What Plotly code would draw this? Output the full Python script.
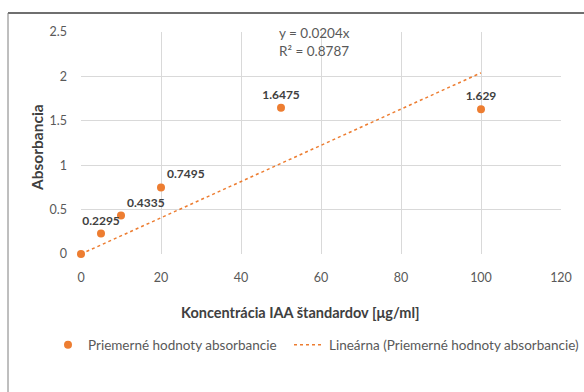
import plotly.graph_objects as go

# IAA standard concentrations and mean absorbance readings
koncentracia = [0, 5, 10, 20, 50, 100]
absorbancia = [0, 0.2295, 0.4335, 0.7495, 1.6475, 1.629]
popisky = ["", "0.2295", "0.4335", "0.7495", "1.6475", "1.629"]
pozicie = ["top center", "top center", "top right", "top right", "top center", "top center"]

# linear fit through origin
sklon = 0.0204
r2 = 0.8787
trend_x = [0, 100]
trend_y = [sklon * x for x in trend_x]

ORANGE = "#ED7D31"
FONT = "Lato"
W, H = 584, 392
L, R, T, B = 81, 23, 32, 138


def px(xp):
    return (xp - L) / (W - L - R)


def py(yp):
    return (H - B - yp) / (H - T - B)


legend_font = dict(family=FONT, size=13.5, color="#595959")

fig = go.Figure()
fig.add_trace(go.Scatter(
    x=koncentracia, y=absorbancia, mode="markers+text",
    name="Priemerné hodnoty absorbancie",
    marker=dict(color=ORANGE, size=8),
    text=popisky, textposition=pozicie,
    textfont=dict(family=FONT, size=12, color="#404040", weight="bold"),
    cliponaxis=False, legend="legend",
))
fig.add_trace(go.Scatter(
    x=trend_x, y=trend_y, mode="lines",
    name="Lineárna (Priemerné hodnoty absorbancie)",
    line=dict(color=ORANGE, width=1.5, dash="dot"),
    legend="legend2",
))

fig.update_layout(
    width=W, height=H,
    margin=dict(l=L, r=R, t=T, b=B, autoexpand=False),
    paper_bgcolor="white", plot_bgcolor="white",
    font=dict(family=FONT, size=12, color="#595959"),
    showlegend=True,
    legend=dict(orientation="h", x=px(48), y=py(345), xanchor="left", yanchor="middle",
                font=legend_font, itemwidth=30),
    legend2=dict(orientation="h", x=px(289), y=py(345), xanchor="left", yanchor="middle",
                 font=legend_font, itemwidth=30),
    xaxis=dict(range=[0, 120], dtick=20, showgrid=True, gridcolor="#D9D9D9", gridwidth=1,
               zeroline=False, showline=False, ticklabelstandoff=14,
               tickfont=dict(family=FONT, size=12.5, color="#595959")),
    yaxis=dict(range=[0, 2.5], dtick=0.5, showgrid=True, gridcolor="#D9D9D9", gridwidth=1,
               zeroline=False, showline=False, ticklabelstandoff=13,
               tickfont=dict(family=FONT, size=12.5, color="#595959")),
    annotations=[
        dict(text="Absorbancia", xref="paper", yref="paper", textangle=-90,
             x=px(37), y=py(148), showarrow=False, xanchor="center", yanchor="middle",
             font=dict(family=FONT, size=15.5, color="#404040", weight="bold")),
        dict(text="Koncentrácia IAA štandardov [μg/ml]", xref="paper", yref="paper",
             x=px(300), y=py(312), showarrow=False, xanchor="center", yanchor="middle",
             font=dict(family=FONT, size=14.5, color="#404040", weight="bold")),
        dict(text=f"y = {sklon}x<br>R² = {r2}", xref="paper", yref="paper",
             x=px(277), y=py(42), showarrow=False, xanchor="left", yanchor="middle",
             align="left", font=dict(family=FONT, size=13.5, color="#595959")),
    ],
    shapes=[
        dict(type="line", xref="paper", yref="paper", x0=px(8), x1=px(584), y0=py(13), y1=py(13),
             line=dict(color="#3F3F3F", width=1.5)),
        dict(type="line", xref="paper", yref="paper", x0=px(8), x1=px(8), y0=py(13), y1=py(392),
             line=dict(color="#7F7F7F", width=1)),
    ],
)

fig.write_html("out.html")
